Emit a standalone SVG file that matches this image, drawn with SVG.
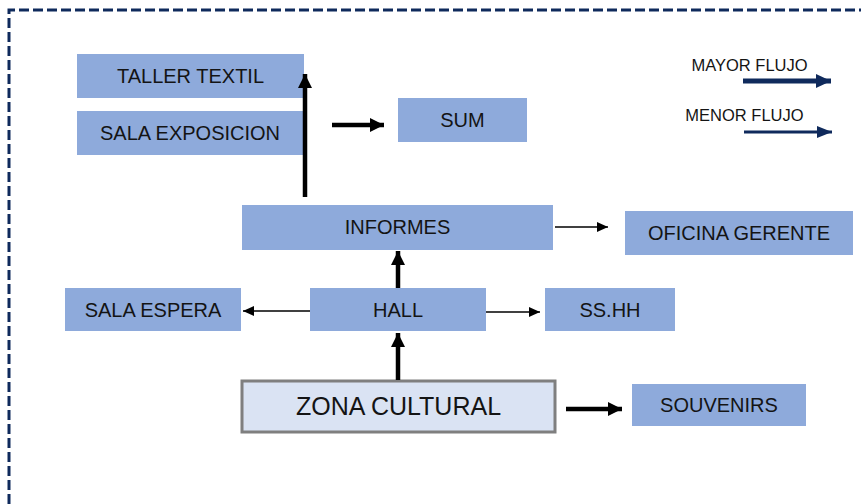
<svg xmlns="http://www.w3.org/2000/svg" width="861" height="504" viewBox="0 0 861 504">
<style>
.box{fill:#8eaadb;stroke:none}
.t{font-family:"Liberation Sans",Arial,sans-serif;font-size:20px;fill:#141414;text-anchor:middle}
.lg{font-family:"Liberation Sans",Arial,sans-serif;font-size:16.5px;fill:#141414;text-anchor:middle}
.thick{stroke:#000;stroke-width:4.5;fill:none}
.thin{stroke:#000;stroke-width:1.5;fill:none}
</style>
<defs>
<marker id="hThick" markerUnits="userSpaceOnUse" markerWidth="16" markerHeight="16" refX="14" refY="8" orient="auto"><path d="M0,1 L14,8 L0,15 Z" fill="#000"/></marker>
<marker id="hThin" markerUnits="userSpaceOnUse" markerWidth="12" markerHeight="12" refX="11" refY="6" orient="auto"><path d="M0,1 L11,6 L0,11 Z" fill="#000"/></marker>
<marker id="hNavyL" markerUnits="userSpaceOnUse" markerWidth="16" markerHeight="16" refX="15" refY="8" orient="auto"><path d="M0,1 L15,8 L0,15 Z" fill="#0f2a5c"/></marker>
<marker id="hNavyS" markerUnits="userSpaceOnUse" markerWidth="16" markerHeight="16" refX="15" refY="8" orient="auto"><path d="M0,2 L15,8 L0,14 Z" fill="#0f2a5c"/></marker>
</defs>
<rect width="861" height="504" fill="#fff"/>
<path d="M9,504 V10 H861" fill="none" stroke="#0f2a5c" stroke-width="3" stroke-dasharray="10 4"/>

<g id="taller-textil"><rect class="box" x="77" y="54" width="227" height="44"/><text class="t" x="190.5" y="83">TALLER TEXTIL</text></g>
<g id="sala-exposicion"><rect class="box" x="77" y="111" width="226" height="44"/><text class="t" x="190" y="140">SALA EXPOSICION</text></g>
<g id="sum"><rect class="box" x="398" y="98" width="129" height="44"/><text class="t" x="462.5" y="127">SUM</text></g>
<g id="informes"><rect class="box" x="242" y="205" width="311" height="45"/><text class="t" x="397.5" y="234">INFORMES</text></g>
<g id="oficina-gerente"><rect class="box" x="625" y="211" width="228" height="44"/><text class="t" x="739" y="240">OFICINA GERENTE</text></g>
<g id="sala-espera"><rect class="box" x="65" y="288" width="176" height="43"/><text class="t" x="153" y="316.5">SALA ESPERA</text></g>
<g id="hall"><rect class="box" x="310" y="288" width="176" height="43"/><text class="t" x="398" y="316.5">HALL</text></g>
<g id="sshh"><rect class="box" x="545" y="288" width="130" height="43"/><text class="t" x="610" y="316.5">SS.HH</text></g>
<g id="zona-cultural"><rect x="242" y="381" width="313" height="51" fill="#dae3f3" stroke="#7f7f7f" stroke-width="3"/><text class="t" style="font-size:25px" x="398.5" y="415">ZONA CULTURAL</text></g>
<g id="souvenirs"><rect class="box" x="632" y="384" width="174" height="42"/><text class="t" x="719" y="412">SOUVENIRS</text></g>

<g id="legend">
<text class="lg" x="749.5" y="71">MAYOR FLUJO</text>
<line x1="743" y1="81" x2="831" y2="81" stroke="#0f2a5c" stroke-width="5" marker-end="url(#hNavyL)"/>
<text class="lg" x="744.5" y="121">MENOR FLUJO</text>
<line x1="744" y1="132" x2="832" y2="132" stroke="#0f2a5c" stroke-width="3" marker-end="url(#hNavyS)"/>
</g>

<g id="connectors">
<line class="thick" x1="305" y1="197" x2="305" y2="74" marker-end="url(#hThick)"/>
<line class="thick" x1="332" y1="125" x2="384" y2="125" marker-end="url(#hThick)"/>
<line class="thin" x1="555" y1="227" x2="608" y2="227" marker-end="url(#hThin)"/>
<line class="thick" x1="398" y1="288" x2="398" y2="251" marker-end="url(#hThick)"/>
<line class="thin" x1="310" y1="311" x2="243" y2="311" marker-end="url(#hThin)"/>
<line class="thin" x1="486" y1="312" x2="540" y2="312" marker-end="url(#hThin)"/>
<line class="thick" x1="398" y1="380" x2="398" y2="333" marker-end="url(#hThick)"/>
<line class="thick" x1="566" y1="409" x2="622" y2="409" marker-end="url(#hThick)"/>
</g>
</svg>
